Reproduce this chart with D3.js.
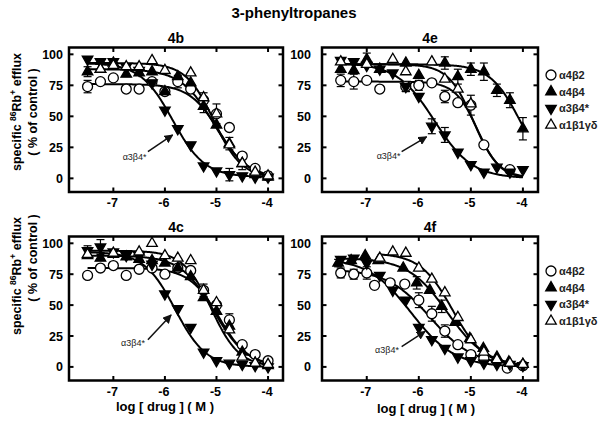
<!DOCTYPE html>
<html><head><meta charset="utf-8">
<script src="https://cdn.jsdelivr.net/npm/d3@7"></script>
<style>body{margin:0;background:#fff} text{font-family:"Liberation Sans",Arial,sans-serif}</style>
</head><body><svg id="c" width="604" height="422"></svg>
<script>
// ---------- data ----------
const title = "3-phenyltropanes";
const panelNames = ["4b", "4e", "4c", "4f"];
const seriesNames = ["α4β2", "α4β4", "α3β4*", "α1β1γδ"];
const xTicks = [-7, -6, -5, -4];
const yTicks = [0, 25, 50, 75, 100];
const annotText = "α3β4*";

// points: [log dose, % of control, error]
const b_a4b2 = [[-7.5,74,5],[-7.25,78],[-7,81],[-6.75,72],[-6.5,72],[-6.25,78],[-6,70],[-5.75,78,5],[-5.5,72],[-5.25,63,6],[-5,52],[-4.75,41],[-4.5,18],[-4.25,8],[-4,2,3]];
const b_a4b4 = [[-7.5,86,4],[-7.25,88],[-7,93],[-6.75,84],[-6.5,85],[-6.25,86],[-6,70],[-5.75,82],[-5.5,77],[-5.25,58,5],[-5,43],[-4.75,28,5],[-4.5,12],[-4.25,3],[-4,1]];
const b_a3b4 = [[-7.5,96],[-7.25,94],[-7,94],[-6.75,90],[-6.5,87],[-6.25,77],[-6,55],[-5.75,40],[-5.5,27],[-5.25,10],[-5,6],[-4.75,3,5],[-4.5,2],[-4.25,1],[-4,1]];
const b_a1b1 = [[-7.25,88],[-7,91],[-6.75,90],[-6.5,90],[-6.25,95],[-6,87],[-5.5,85],[-5.25,65],[-5,52,8],[-4.75,27],[-4.5,12,5],[-4.25,5],[-4,2]];

const e_a4b2 = [[-7.5,79,5],[-7.25,78,6],[-7,79],[-6.75,72],[-6.25,74,4],[-6,75,4],[-5.75,77],[-5.5,66,5],[-5.25,61],[-5,59,8],[-4.75,27],[-4.25,7]];
const e_a4b4 = [[-7.5,88],[-7.25,87],[-7,96,5],[-6.75,88],[-6.25,93],[-6,83],[-5.5,93,5],[-5.25,82,6],[-5,88,5],[-4.75,86,7],[-4.5,71,5],[-4.25,63,6],[-4,40,9]];
const e_a3b4 = [[-7.5,95],[-7.25,94],[-7,91],[-6.75,88],[-6.5,85],[-6.25,74,4],[-6,66],[-5.75,42,6],[-5.5,35,6],[-5.25,21],[-5,11],[-4.75,5],[-4.5,9],[-4.25,5],[-4,7]];
const e_a1b1 = [[-7.5,94],[-7,92],[-6.5,96],[-6.25,86],[-5.75,94],[-5.5,80],[-5.25,72],[-5,60]];

const c_a4b2 = [[-7.5,74],[-7.25,80],[-7,82],[-6.75,74],[-6.5,79],[-6.25,80],[-6,75],[-5.75,80],[-5.5,78],[-5.25,62],[-5,50],[-4.75,38,5],[-4.5,18],[-4.25,10],[-4,5]];
const c_a4b4 = [[-7.5,90],[-7.25,88],[-7,91],[-6.75,89],[-6.5,87],[-6.25,86],[-6,84],[-5.75,80],[-5.5,73],[-5.25,56],[-5,45],[-4.75,33],[-4.5,12],[-4.25,3],[-4,1]];
const c_a3b4 = [[-7.5,94,4],[-7.25,97,6],[-7,93],[-6.75,90],[-6.5,90],[-6.25,83],[-6,59],[-5.75,47],[-5.5,32],[-5.25,12],[-5,5],[-4.75,3],[-4.5,2],[-4.25,1],[-4,0]];
const c_a1b1 = [[-7.5,91],[-7,92],[-6.5,93],[-6.25,100],[-6,90],[-5.75,88],[-5.5,86],[-5.25,62,5],[-5,52],[-4.75,30],[-4.5,8],[-4.25,3],[-4,2]];

const f_a4b2 = [[-7.5,76,4],[-7.25,75,4],[-7,76,5],[-6.85,66],[-6.55,68],[-6.27,67],[-6,54,6],[-5.75,43,6],[-5.5,29,5],[-5.25,18],[-5,10],[-4.75,7],[-4.3,-1],[-4,1]];
const f_a4b4 = [[-7.55,84,3],[-7.3,86],[-7.03,90],[-6.78,86],[-6.3,80],[-6.04,68,5],[-5.79,62],[-5.56,49,5],[-5.3,36],[-5.02,23],[-4.76,15],[-4.5,8],[-4.27,4],[-4,2]];
const f_a3b4 = [[-7.5,87],[-7.25,88],[-7,84],[-6.75,74],[-6.5,62],[-6.25,54],[-6,32],[-5.75,22],[-5.5,15],[-5.25,8],[-5,5],[-4.75,3],[-4.5,2],[-4.25,2],[-4,1]];
const f_a1b1 = [[-6.75,88],[-6.5,93],[-6.25,92],[-6,80],[-5.75,71],[-5.5,60],[-5.25,40],[-5,22],[-4.75,12],[-4.5,6],[-4.25,3],[-4,2]];

// fitted curves: [top, bottom, logIC50, hill, start log dose]
const fit_b = [[76,0,-4.95,1.5,-7.5],[88,0,-5.05,1.35,-7.5],[93,1,-5.85,1.4,-7.5],[93,0,-5.05,1.6,-7.5]];
const fit_e = [[78,0,-4.87,2.0,-7.5],[92,0,-4.05,1.5,-7.5],[93,0,-5.7,1.2,-7.5],[92,0,-4.95,1.8,-7.5]];
const fit_c = [[80,0,-4.95,1.5,-7.5],[90,0,-5.05,1.35,-7.5],[93,0,-5.8,1.45,-7.5],[94,0,-5.1,1.6,-7.5]];
const fit_f = [[79,1,-5.78,1.05,-7.5],[88,0,-5.45,1.15,-7.5],[88,0,-6.15,1.05,-7.5],[92,0,-5.35,1.4,-6.75]];

// annotation: [text x, text y, arrow from x, from y, to x, to y] (data units)
const annot_b = [-6.82,15,-6.33,21.5,-5.85,35];
const annot_e = [-6.81,16,-6.33,21.5,-5.85,33.5];
const annot_c = [-6.85,17,-6.33,22,-5.88,42];
const annot_f = [-6.84,11.5,-6.33,16.5,-5.88,28.7];

const panelData = [[b_a4b2,b_a4b4,b_a3b4,b_a1b1],[e_a4b2,e_a4b4,e_a3b4,e_a1b1],[c_a4b2,c_a4b4,c_a3b4,c_a1b1],[f_a4b2,f_a4b4,f_a3b4,f_a1b1]];
const panelFits = [fit_b, fit_e, fit_c, fit_f];
const panelAnnots = [annot_b, annot_e, annot_c, annot_f];

// ---------- layout ----------
const layout = [
  {x:69, y:47.5, w:214, h:144.5, lab:6, legend:false},
  {x:322, y:47.5, w:216, h:144.5, lab:11, legend:true, legY:75},
  {x:69, y:236.5, w:214, h:144, lab:6, legend:false},
  {x:322, y:236.5, w:216, h:144, lab:11, legend:true, legY:271}
];
const xDomain = [-7.86, -3.71];
const yDomain = [-11, 105.5];

const svg = d3.select("#c");
svg.append("rect").attr("width",604).attr("height",422).attr("fill","#fff");

svg.append("defs").append("marker").attr("id","ah")
  .attr("viewBox","0 0 10 10").attr("refX",9).attr("refY",5)
  .attr("markerWidth",6).attr("markerHeight",6).attr("orient","auto")
  .append("path").attr("d","M0,0L10,5L0,10z").attr("fill","#111");

svg.append("text").attr("x",294).attr("y",18).attr("text-anchor","middle")
  .attr("font-size",15).attr("font-weight","bold").text(title);

const symTypes = [d3.symbolCircle, d3.symbolTriangle, d3.symbolTriangle, d3.symbolTriangle];
const symFill = ["#fff","#000","#000","#fff"];
const symRot = [0,0,180,0];
const symSize = [78,48,48,48];

function hill(p, x){ return p[1] + (p[0]-p[1])/(1+Math.pow(10,(x-p[2])*p[3])); }

function drawSym(g, i, cx, cy){
  g.append("path").attr("d", d3.symbol().type(symTypes[i]).size(symSize[i])())
    .attr("transform", `translate(${cx},${cy}) rotate(${symRot[i]})`)
    .attr("fill", symFill[i]).attr("stroke","#000").attr("stroke-width",1.3);
}

layout.forEach((L, pi) => {
  const x = d3.scaleLinear().domain(xDomain).range([L.x, L.x+L.w]);
  const y = d3.scaleLinear().domain(yDomain).range([L.y+L.h, L.y]);
  const g = svg.append("g");

  g.append("text").attr("x", L.x+L.w/2).attr("y", L.y-5).attr("text-anchor","middle")
    .attr("font-size",14).attr("font-weight","bold").text(panelNames[pi]);

  const ax = g.append("g").attr("stroke","#000").attr("stroke-width",2);
  xTicks.forEach(t => {
    ax.append("line").attr("x1",x(t)).attr("x2",x(t)).attr("y1",L.y+L.h).attr("y2",L.y+L.h-4.5);
    ax.append("line").attr("x1",x(t)).attr("x2",x(t)).attr("y1",L.y).attr("y2",L.y+4.5);
  });
  yTicks.forEach(t => {
    ax.append("line").attr("y1",y(t)).attr("y2",y(t)).attr("x1",L.x).attr("x2",L.x+4.5);
    ax.append("line").attr("y1",y(t)).attr("y2",y(t)).attr("x1",L.x+L.w).attr("x2",L.x+L.w-4.5);
  });
  xTicks.forEach(t => {
    g.append("text").attr("x",x(t)-1).attr("y",L.y+L.h+15).attr("text-anchor","middle")
      .attr("font-size",12.5).attr("font-weight","bold").text("-"+Math.abs(t));
  });
  yTicks.forEach(t => {
    g.append("text").attr("x",L.x-L.lab).attr("y",y(t)+4.5).attr("text-anchor","end")
      .attr("font-size",12.5).attr("font-weight","bold").text(t);
  });

  const eg = g.append("g").attr("stroke","#000").attr("stroke-width",1.2);
  panelData[pi].forEach(s => s.forEach(d => {
    if (d[2]) {
      eg.append("line").attr("x1",x(d[0])).attr("x2",x(d[0])).attr("y1",y(d[1]-d[2])).attr("y2",y(d[1]+d[2]));
      [d[1]-d[2], d[1]+d[2]].forEach(v => eg.append("line").attr("x1",x(d[0])-4).attr("x2",x(d[0])+4).attr("y1",y(v)).attr("y2",y(v)));
    }
  }));

  const line = d3.line().x(d=>x(d[0])).y(d=>y(d[1]));
  panelFits[pi].forEach(p => {
    const xs = d3.range(p[4], -3.999, 0.02);
    g.append("path").attr("d", line(xs.map(v=>[v,hill(p,v)])))
      .attr("fill","none").attr("stroke","#000").attr("stroke-width",2);
  });

  panelData[pi].forEach((s, si) => s.forEach(d => drawSym(g, si, x(d[0]), y(d[1]))));

  g.append("rect").attr("x",L.x).attr("y",L.y).attr("width",L.w).attr("height",L.h)
    .attr("fill","none").attr("stroke","#000").attr("stroke-width",2.5);

  const a = panelAnnots[pi];
  g.append("text").attr("x",x(a[0])).attr("y",y(a[1])).attr("font-size",9).attr("fill","#222").text(annotText);
  g.append("line").attr("x1",x(a[2])).attr("y1",y(a[3])).attr("x2",x(a[4])).attr("y2",y(a[5]))
    .attr("stroke","#111").attr("stroke-width",1.5).attr("marker-end","url(#ah)");

  if (L.legend) {
    seriesNames.forEach((n, i) => {
      const ly = L.legY + i*16.7;
      drawSym(svg, i, 551, ly);
      svg.append("text").attr("x",559).attr("y",ly+4).attr("font-size",11).attr("font-weight","bold")
        .attr("fill","#222").text(n);
    });
  }
});

[{c:112, c2:112},{c:276, c2:258}].forEach(o => {
  const t1 = svg.append("text").attr("transform",`translate(21,${o.c}) rotate(-90)`)
    .attr("text-anchor","middle").attr("font-size",12.5).attr("font-weight","bold");
  t1.append("tspan").text("specific ");
  t1.append("tspan").attr("font-size",8.5).attr("dy",-5).text("86");
  t1.append("tspan").attr("dy",5).text("Rb");
  t1.append("tspan").attr("font-size",8.5).attr("dy",-5).text("+");
  t1.append("tspan").attr("dy",5).text(" efflux");
  svg.append("text").attr("transform",`translate(37,${o.c2}) rotate(-90)`)
    .attr("text-anchor","middle").attr("font-size",12.5).attr("font-weight","bold").text("( % of control )");
});

[{cx:165, cy:411},{cx:426, cy:413}].forEach(o => {
  svg.append("text").attr("x",o.cx).attr("y",o.cy).attr("text-anchor","middle")
    .attr("font-size",13).attr("font-weight","bold").text("log [ drug ] ( M )");
});
</script></body></html>
